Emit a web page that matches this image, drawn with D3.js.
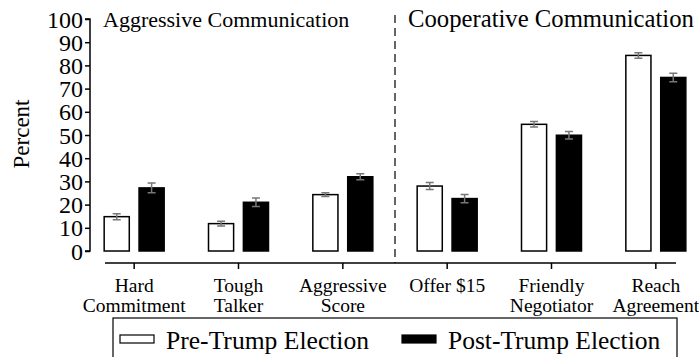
<!DOCTYPE html>
<meta charset="utf-8">
<svg width="699" height="357"></svg>
<script src="https://d3js.org/d3.v7.min.js"></script>
<script>
    var categories = [["Hard", "Commitment"], ["Tough", "Talker"], ["Aggressive", "Score"],
                      ["Offer $15"], ["Friendly", "Negotiator"], ["Reach", "Agreement"]];
    var preValues = [14.8, 11.8, 24.3, 28.0, 54.6, 84.3];
    var preErrors = [1.3, 1.0, 0.8, 1.5, 1.2, 1.2];
    var postValues = [27.2, 21.0, 32.0, 22.6, 49.9, 74.8];
    var postErrors = [2.1, 1.8, 1.3, 1.8, 1.6, 1.8];
    var yTicks = [0, 10, 20, 30, 40, 50, 60, 70, 80, 90, 100];
    var panelTitles = ["Aggressive Communication", "Cooperative Communication"];
    var seriesNames = ["Pre-Trump Election", "Post-Trump Election"];

    d3.select("body").style("margin", "0px");
    var svg = d3.select("svg").style("display", "block");
    var serif = "'Liberation Serif'";

    // scale font so a text takes roughly the width it has in the reference
    function fitWidth(sel, target) {
        sel.each(function() {
            var w = this.getComputedTextLength();
            var fs = parseFloat(d3.select(this).style("font-size"));
            d3.select(this).style("font-size", (fs * target / w).toFixed(1) + "px");
        });
    }

    var y = d3.scaleLinear().domain([0, 100]).range([251, 19]);
    var x = d3.scaleBand().domain(d3.range(categories.length)).range([82, 708]).padding(0);
    var xs = d3.scaleBand().domain([0, 1]).range([0, 60]).paddingInner(0.28);

    // y axis
    var yAxis = svg.append("g").attr("transform", "translate(90,0)")
        .call(d3.axisLeft(y).tickValues(yTicks).tickSize(5).tickPadding(2));
    yAxis.attr("font-family", null);
    yAxis.select(".domain").attr("d", "M-5," + y(100) + "H0V" + y(0) + "H-5").attr("stroke-width", 1.5);
    yAxis.selectAll(".tick line").attr("stroke-width", 1.5);
    yAxis.selectAll(".tick text").style("font-family", serif).style("font-size", "24px")
        .attr("dy", "0.34em").attr("fill", "#000");

    svg.append("text").attr("transform", "translate(29,134) rotate(-90)")
        .attr("text-anchor", "middle").style("font-family", serif).style("font-size", "23px")
        .text("Percent");

    // x axis
    var xAxis = svg.append("g").attr("transform", "translate(0,263)")
        .call(d3.axisBottom(x).tickSize(6).tickFormat(""));
    xAxis.select(".domain").attr("d", "M105,0H676").attr("stroke-width", 1.5);
    xAxis.selectAll(".tick line").attr("stroke-width", 1.5);

    var labels = svg.append("g").selectAll("text").data(categories).enter().append("text")
        .attr("text-anchor", "middle")
        .attr("x", function(d, i) { return x(i) + x.bandwidth() / 2; })
        .attr("y", 292)
        .style("font-family", serif)
        .style("font-size", "19.5px");
    labels.selectAll("tspan").data(function(d) { return d; }).enter().append("tspan")
        .attr("x", function() { return d3.select(this.parentNode).attr("x"); })
        .attr("dy", function(d, i) { return i === 0 ? 0 : "1.05em"; })
        .text(function(d) { return d; });

    // bars
    var series = [
        { values: preValues, errors: preErrors, fill: "#fff" },
        { values: postValues, errors: postErrors, fill: "#000" }
    ];
    series.forEach(function(s, si) {
        var g = svg.append("g");
        var bx = function(i) { return x(i) + x.bandwidth() / 2 - 30 + xs(si); };
        g.selectAll("rect").data(s.values).enter().append("rect")
            .attr("x", function(d, i) { return bx(i); })
            .attr("y", function(d) { return y(d); })
            .attr("width", xs.bandwidth())
            .attr("height", function(d) { return y(0) - y(d); })
            .attr("fill", s.fill).attr("stroke", "#000").attr("stroke-width", 1.5);
        var eb = g.selectAll("g.err").data(s.values).enter().append("g")
            .attr("stroke", "#777").attr("stroke-width", 1.5).attr("fill", "none");
        eb.append("path").attr("d", function(d, i) {
            var cx = bx(i) + xs.bandwidth() / 2;
            var lo = y(d - s.errors[i]), hi = y(d + s.errors[i]);
            return "M" + (cx - 4) + "," + hi + "H" + (cx + 4) + "M" + cx + "," + hi + "V" + lo +
                "M" + (cx - 4) + "," + lo + "H" + (cx + 4);
        });
    });

    // divider and panel titles
    var divX = (x(2) + x.bandwidth() + x(3)) / 2;
    svg.append("line").attr("x1", divX).attr("x2", divX).attr("y1", 15).attr("y2", 263)
        .attr("stroke", "#000").attr("stroke-width", 1.2).attr("stroke-dasharray", "8,5");
    var titles = svg.selectAll("text.title").data(panelTitles).enter().append("text")
        .attr("class", "title")
        .attr("x", function(d, i) { return i === 0 ? 103 : 408; })
        .attr("y", 27)
        .style("font-family", serif)
        .style("font-size", "23px")
        .text(function(d) { return d; });
    fitWidth(titles.filter(function(d, i) { return i === 0; }), 246);
    fitWidth(titles.filter(function(d, i) { return i === 1; }), 286);

    // legend
    var legend = svg.append("g");
    legend.append("rect").attr("x", 113).attr("y", 318).attr("width", 564).attr("height", 50)
        .attr("fill", "#fff").attr("stroke", "#000").attr("stroke-width", 1.2);
    var li = legend.selectAll("g.item").data(seriesNames).enter().append("g")
        .attr("transform", function(d, i) { return "translate(" + (i === 0 ? 120 : 402) + ",0)"; });
    li.append("rect").attr("x", 0).attr("y", 335).attr("width", 34).attr("height", 8)
        .attr("fill", function(d, i) { return i === 0 ? "#fff" : "#000"; })
        .attr("stroke", "#000").attr("stroke-width", 1.2);
    var legText = li.append("text").attr("x", 46).attr("y", 349)
        .style("font-family", serif).style("font-size", "25px")
        .text(function(d) { return d; });
    fitWidth(legText.filter(function(d, i) { return i === 0; }), 203);
    fitWidth(legText.filter(function(d, i) { return i === 1; }), 212);
</script>
